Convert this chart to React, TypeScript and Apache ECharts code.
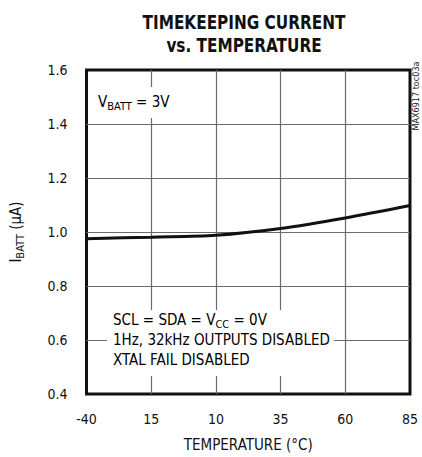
import { useEffect, useRef } from "react";
import * as echarts from "echarts";

const temperatureLabels = ["-40", "15", "10", "35", "60", "85"];
const currentValues = [0.975, 0.981, 0.988, 1.013, 1.052, 1.098];
const yMin = 0.4;
const yMax = 1.6;
const yStep = 0.2;
const titleText = "TIMEKEEPING CURRENT\nvs. TEMPERATURE";
const xTitle = "TEMPERATURE (°C)";
const figureCode = "MAX6917 toc03a";

const FONT = "'Liberation Sans Narrow', 'DejaVu Sans Condensed', 'Roboto Condensed', sans-serif";

export default function App() {
  const ref = useRef<HTMLDivElement>(null);
  useEffect(() => {
    if (!ref.current) return;
    const chart = echarts.init(ref.current, null, { renderer: "svg" });
    const sub = { fontSize: 11, fontFamily: FONT, color: "#111", verticalAlign: "bottom", lineHeight: 14 };
    const main = { fontSize: 15, fontFamily: FONT, color: "#111", lineHeight: 20 };
    chart.setOption({
      animation: false,
      backgroundColor: "#fff",
      grid: {
        left: 81,
        right: 12,
        top: 70,
        bottom: 60,
        show: true,
        borderColor: "#111",
        borderWidth: 3,
        containLabel: false,
      },
      xAxis: {
        type: "category",
        data: temperatureLabels,
        boundaryGap: false,
        axisLine: { show: false },
        axisTick: { show: false },
        axisLabel: { fontFamily: FONT, fontSize: 14, color: "#111", margin: 18 },
        splitLine: { show: true, showMinLine: false, showMaxLine: false, lineStyle: { color: "#6a6a6a", width: 1.2 } },
        name: xTitle,
        nameLocation: "middle",
        nameGap: 43,
        nameTextStyle: { fontFamily: FONT, fontSize: 15, color: "#111" },
      },
      yAxis: {
        type: "value",
        min: yMin,
        max: yMax,
        interval: yStep,
        axisLine: { show: false },
        axisTick: { show: false },
        axisLabel: { fontFamily: FONT, fontSize: 14, color: "#111", margin: 19, formatter: (v: number) => v.toFixed(1) },
        splitLine: { show: true, showMinLine: false, showMaxLine: false, lineStyle: { color: "#6a6a6a", width: 1.2 } },
        name: "{m|I}{s|BATT}{m| (µA)}",
        nameLocation: "middle",
        nameRotate: 90,
        nameGap: 61,
        nameTextStyle: { rich: { m: main, s: sub } },
      },
      series: [
        {
          type: "line",
          data: currentValues,
          smooth: 0.3,
          symbol: "none",
          lineStyle: { color: "#111", width: 3 },
          z: 5,
        },
      ],
      graphic: [
        {
          type: "text",
          x: 244,
          y: 10,
          scaleX: 0.85,
          z: 10,
          style: {
            text: titleText,
            fontFamily: FONT,
            fontWeight: "bold",
            fontSize: 20,
            lineHeight: 23,
            fill: "#111",
            align: "center",
            verticalAlign: "top",
          },
        },
        {
          type: "text",
          x: 97,
          y: 87,
          z: 10,
          style: {
            text: "{m|V}{s|BATT}{m| = 3V}",
            rich: { m: main, s: sub },
            backgroundColor: "#fff",
            padding: [5, 4, 6, 1],
          },
        },
        {
          type: "text",
          x: 107,
          y: 310,
          z: 10,
          style: {
            text: "{m|SCL = SDA = V}{s|CC}{m| = 0V}\n{m|1Hz, 32kHz OUTPUTS DISABLED}\n{m|XTAL FAIL DISABLED}",
            rich: { m: main, s: sub },
            backgroundColor: "#fff",
            padding: [0, 4, 6, 6],
          },
        },
        {
          type: "text",
          x: 416,
          y: 96,
          rotation: Math.PI / 2,
          z: 10,
          style: {
            text: figureCode,
            fontFamily: FONT,
            fontSize: 9,
            fill: "#222",
            align: "center",
            verticalAlign: "middle",
          },
        },
      ],
    });
    return () => chart.dispose();
  }, []);
  return <div ref={ref} style={{ position: "fixed", left: 0, top: 0, width: 422, height: 457 }} />;
}
